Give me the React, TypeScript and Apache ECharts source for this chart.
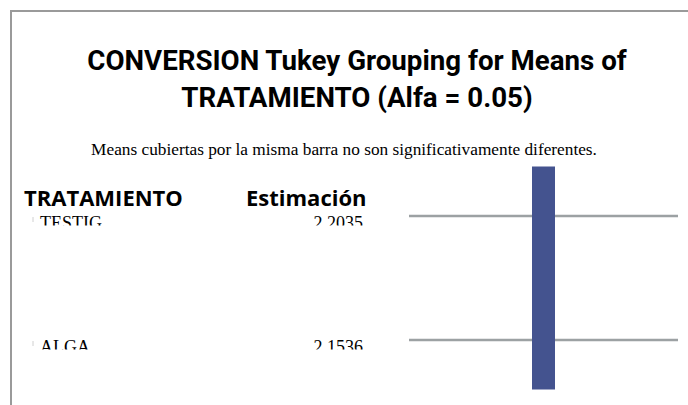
import React, { useEffect, useRef } from "react";
import * as echarts from "echarts";

const treatments = ["TESTIG", "ALGA"];
const estimates = [2.2035, 2.1536];
const groupLetters = ["A"];
const groupStartRow = [0];
const groupEndRow = [1];

const titleText = "CONVERSION Tukey Grouping for Means of\nTRATAMIENTO (Alfa = 0.05)";
const subtitleText = "Means cubiertas por la misma barra no son significativamente diferentes.";
const headerNames = ["TRATAMIENTO", "Estimación"];

const TITLE_FONT = "Roboto, 'Open Sans', sans-serif";
const SANS = "'Open Sans', sans-serif";
const SERIF = "'Liberation Serif', 'Times New Roman', serif";

export default function App() {
  const ref = useRef<HTMLDivElement>(null);
  useEffect(() => {
    if (!ref.current) return;
    const chart = echarts.init(ref.current, null, { renderer: "svg" });
    const rowLines = treatments.map((t, i) => [0, 1, i]);
    const groupBars = groupLetters.map((g, i) => [0.5, groupStartRow[i], groupEndRow[i]]);
    chart.setOption({
      animation: false,
      backgroundColor: "#ffffff",
      title: [
        {
          text: titleText,
          left: 357,
          top: 42,
          padding: 0,
          textAlign: "center",
          textStyle: { fontFamily: TITLE_FONT, fontWeight: "bold", fontSize: 27.7, lineHeight: 37, color: "#000" },
        },
        {
          text: subtitleText,
          left: 344,
          top: 139,
          padding: 0,
          textAlign: "center",
          textStyle: { fontFamily: SERIF, fontWeight: "normal", fontSize: 17.3, lineHeight: 20, color: "#000" },
        },
      ],
      graphic: [
        {
          type: "rect",
          shape: { x: 11, y: 11, width: 700, height: 420 },
          style: { fill: "none", stroke: "#9a9a9a", lineWidth: 2 },
          z: 1,
        },
        {
          type: "text",
          x: 24,
          y: 186,
          style: { text: headerNames[0], font: `bold 22px ${SANS}`, fill: "#000" },
        },
        {
          type: "text",
          x: 246,
          y: 186,
          style: { text: headerNames[1], font: `bold 22px ${SANS}`, fill: "#000" },
        },
      ],
      grid: { left: 409, right: 10, top: 166.4, bottom: 15.4, containLabel: false },
      xAxis: { type: "value", min: 0, max: 1, show: false },
      yAxis: {
        type: "value",
        inverse: true,
        min: -0.4,
        max: 1.4,
        axisLine: { show: false },
        axisTick: { show: false },
        splitLine: { show: false },
        axisLabel: {
          customValues: treatments.map((_, i) => i),
          margin: 46,
          verticalAlign: "top",
          formatter: (v: number) => {
            const i = Math.round(v);
            return `{n|${treatments[i]}}{v|${estimates[i].toFixed(4)}}`;
          },
          rich: {
            n: { width: 263, align: "left", fontFamily: SERIF, fontSize: 18, color: "#000", lineHeight: 13 },
            v: { width: 60, align: "right", fontFamily: SERIF, fontSize: 18, color: "#000", lineHeight: 13 },
          },
        },
      },
      series: [
        {
          type: "custom",
          data: rowLines,
          renderItem: (params: any, api: any) => {
            const a = api.coord([api.value(0), api.value(2)]);
            const b = api.coord([api.value(1), api.value(2)]);
            return {
              type: "line",
              shape: { x1: a[0], y1: a[1], x2: b[0], y2: b[1] },
              style: { stroke: "#9ca1a3", lineWidth: 2.5 },
            };
          },
          z: 2,
        },
        {
          type: "custom",
          data: rowLines,
          renderItem: (params: any, api: any) => {
            const a = api.coord([api.value(0), api.value(2)]);
            return {
              type: "group",
              children: [
                {
                  type: "rect",
                  shape: { x: 28, y: a[1] + 9.5, width: 350, height: 14 },
                  style: { fill: "#ffffff" },
                },
                {
                  type: "line",
                  shape: { x1: 33, y1: a[1] + 1, x2: 33, y2: a[1] + 6 },
                  style: { stroke: "#d0d0d0", lineWidth: 1 },
                },
              ],
            };
          },
          z: 4,
        },
        {
          type: "custom",
          data: groupBars,
          renderItem: (params: any, api: any) => {
            const top = api.coord([api.value(0), api.value(1) - 0.4]);
            const bot = api.coord([api.value(0), api.value(2) + 0.4]);
            const w = 23;
            return {
              type: "rect",
              shape: { x: top[0] - w / 2, y: top[1], width: w, height: bot[1] - top[1] },
              style: { fill: "#44538f" },
            };
          },
          z: 3,
        },
      ],
    });
    return () => chart.dispose();
  }, []);
  return (
    <div
      ref={ref}
      style={{ position: "absolute", left: 0, top: 0, width: 688, height: 405 }}
    />
  );
}
